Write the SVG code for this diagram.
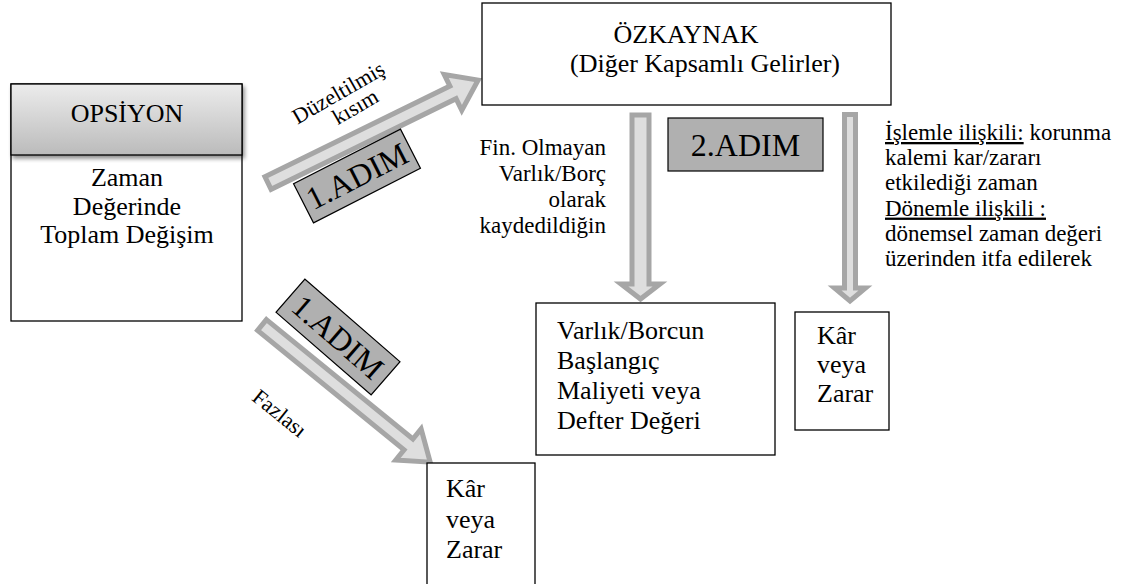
<svg xmlns="http://www.w3.org/2000/svg" width="1134" height="584" viewBox="0 0 1134 584">
  <style>
    .box { fill: #ffffff; stroke: #000000; stroke-width: 1.3; }
    .step { fill: #b0b0b0; stroke: #000000; stroke-width: 1.2; }
    .arrow { fill: #dedede; stroke: #a6a6a6; stroke-width: 5; stroke-linejoin: miter; }
    text { font-family: 'Liberation Serif', 'DejaVu Serif', serif; fill: #000000; }
    .big { font-size: 26px; }
    .mid { font-size: 23px; }
    .small { font-size: 22px; }
    .stepText { font-size: 32px; }
    .c { text-anchor: middle; }
    .r { text-anchor: end; }
    .u { text-decoration: underline; }
  </style>
  <defs>
    <linearGradient id="headFill" x1="0" y1="0" x2="0" y2="1">
      <stop offset="0" stop-color="#ececec"/>
      <stop offset="1" stop-color="#bbbbbb"/>
    </linearGradient>
    <filter id="shadow" x="-10%" y="-10%" width="130%" height="140%">
      <feGaussianBlur in="SourceAlpha" stdDeviation="2"/>
      <feOffset dx="2" dy="3"/>
      <feComponentTransfer><feFuncA type="linear" slope="0.45"/></feComponentTransfer>
      <feMerge><feMergeNode/><feMergeNode in="SourceGraphic"/></feMerge>
    </filter>
  </defs>

  <!-- connectors: wide block arrows -->
  <g id="connectors">
    <polygon class="arrow" transform="translate(268,183) rotate(-26.1)" points="0,-7 206,-7 206,-20 234,0 206,20 206,7 0,7"/>
    <polygon class="arrow" transform="translate(262,325) rotate(39.2)" points="0,-7 189,-7 189,-20 217,0 189,20 189,7 0,7"/>
    <path class="arrow" d="M632,115 H649 V284 H660 L640.5,299 L621,284 H632 Z"/>
    <path class="arrow" d="M844.5,114.5 H855.5 V288 H865.5 L850,301 L834.5,288 H844.5 Z"/>
  </g>

  <!-- option box with shaded header -->
  <g id="opsiyon">
    <rect class="box" x="11" y="84" width="231" height="237"/>
    <rect x="11" y="84" width="231" height="71" fill="url(#headFill)" stroke="#000000" stroke-width="1.3" filter="url(#shadow)"/>
    <text class="big c" x="127" y="122">OPSİYON</text>
    <text class="big c" x="127" y="186">Zaman</text>
    <text class="big c" x="127" y="214.5">Değerinde</text>
    <text class="big c" x="127" y="243">Toplam Değişim</text>
  </g>

  <g id="ozkaynak">
    <rect class="box" x="482" y="3" width="409" height="102"/>
    <text class="big c" x="686" y="43">ÖZKAYNAK</text>
    <text class="big c" x="705" y="72">(Diğer Kapsamlı Gelirler)</text>
  </g>

  <g id="varlik">
    <rect class="box" x="536" y="303" width="239" height="152"/>
    <text class="big" x="557" y="339">Varlık/Borcun</text>
    <text class="big" x="557" y="369">Başlangıç</text>
    <text class="big" x="557" y="399">Maliyeti veya</text>
    <text class="big" x="557" y="429">Defter Değeri</text>
  </g>

  <g id="kar-zarar-1">
    <rect class="box" x="427" y="463" width="108" height="130"/>
    <text class="big" x="446" y="497">Kâr</text>
    <text class="big" x="446" y="528">veya</text>
    <text class="big" x="446" y="558">Zarar</text>
  </g>

  <g id="kar-zarar-2">
    <rect class="box" x="795" y="312" width="94" height="118"/>
    <text class="big" x="817" y="344">Kâr</text>
    <text class="big" x="817" y="373">veya</text>
    <text class="big" x="817" y="402">Zarar</text>
  </g>

  <!-- step labels -->
  <g id="adim-1-ust" transform="translate(357,176) rotate(-27)">
    <rect class="step" x="-60" y="-22" width="120" height="44"/>
    <text class="stepText c" x="0" y="11">1.ADIM</text>
  </g>
  <g id="adim-1-alt" transform="translate(338,337) rotate(41)">
    <rect class="step" x="-63" y="-22" width="126" height="44"/>
    <text class="stepText c" x="0" y="11">1.ADIM</text>
  </g>
  <g id="adim-2">
    <rect class="step" x="668" y="118" width="155" height="53"/>
    <text class="stepText c" x="745.5" y="156">2.ADIM</text>
  </g>

  <!-- free text notes -->
  <g id="duzeltilmis">
    <text class="small c" transform="translate(342,99) rotate(-30)">Düzeltilmiş</text>
    <text class="small c" transform="translate(359,113) rotate(-30)">kısım</text>
  </g>
  <g id="fazlasi">
    <text class="small c" transform="translate(275,419) rotate(39)">Fazlası</text>
  </g>
  <g id="fin-olmayan">
    <text class="mid r" x="606" y="155">Fin. Olmayan</text>
    <text class="mid r" x="606" y="181">Varlık/Borç</text>
    <text class="mid r" x="606" y="207">olarak</text>
    <text class="mid r" x="606" y="233">kaydedildiğin</text>
  </g>
  <g id="islemle">
    <text class="mid" x="885" y="140"><tspan class="u">İşlemle ilişkili:</tspan> korunma</text>
    <text class="mid" x="885" y="165.2">kalemi kar/zararı</text>
    <text class="mid" x="885" y="190.4">etkilediği zaman</text>
    <text class="mid" x="885" y="215.6"><tspan class="u">Dönemle ilişkili :</tspan></text>
    <text class="mid" x="885" y="240.8">dönemsel zaman değeri</text>
    <text class="mid" x="885" y="266">üzerinden itfa edilerek</text>
  </g>
</svg>
